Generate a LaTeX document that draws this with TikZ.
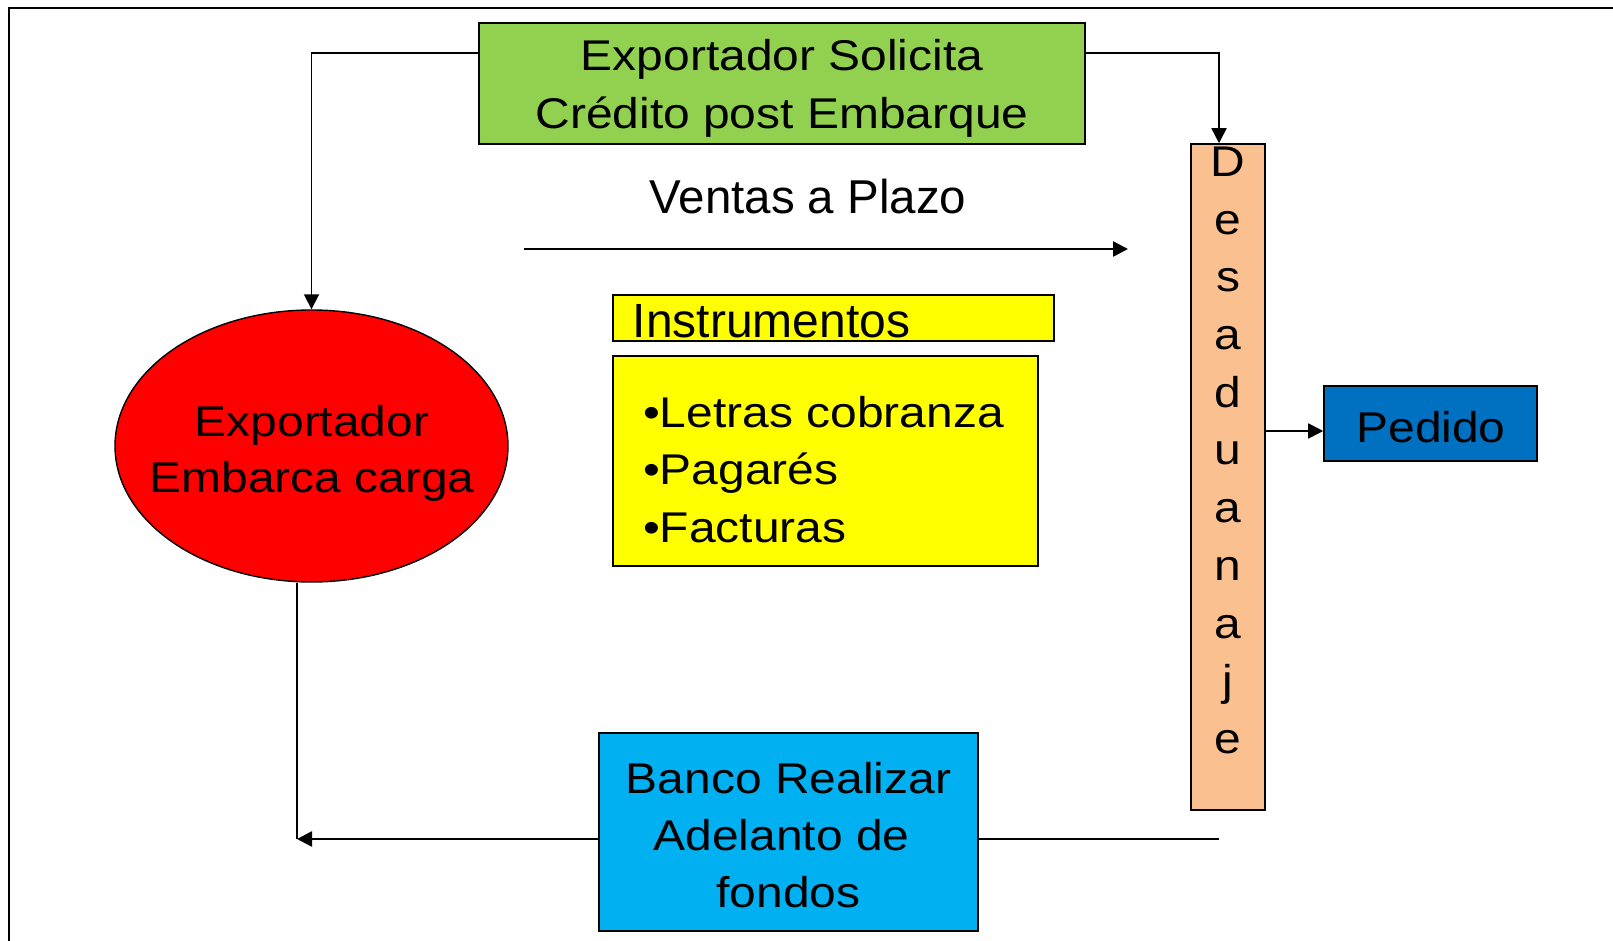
\documentclass[tikz,border=0pt]{standalone}
\usepackage{fontspec}
\setmainfont{Liberation Sans}
\newfontfamily\sfx{Liberation Sans}[FakeStretch=1.115]
\usetikzlibrary{arrows.meta,shapes.geometric}
\definecolor{cgreen}{HTML}{92D050}
\definecolor{cred}{HTML}{FF0000}
\definecolor{cyellow}{HTML}{FFFF00}
\definecolor{corange}{HTML}{FAC090}
\definecolor{cped}{HTML}{0070C0}
\definecolor{cblue}{HTML}{00B0F0}
\begin{document}
\begin{tikzpicture}[x=1pt,y=-1pt,
  rbox/.style={draw=black, line width=1.6pt, rectangle, inner sep=0pt},
  lbl/.style={inner sep=0pt, align=center},
  conn/.style={line width=1.8pt, draw=black},
  tip/.style={-{Triangle[length=15pt,width=15pt]}}]
\useasboundingbox (0,0) rectangle (1613,941);
\fill[white] (0,0) rectangle (1613,941);
\draw[line width=1.8pt] (9,941) -- (9,8) -- (1613,8);

% boxes
\node[rbox, fill=cgreen, minimum width=606pt, minimum height=121pt] (sol) at (782,83.5) {};
\node[lbl, font=\sfx\fontsize{43}{58}\selectfont] (solt) at (782,88.8) {Exportador Solicita\\Crédito post Embarque};

\node[ellipse, draw=black, line width=1.4pt, fill=cred, minimum width=393pt, minimum height=272pt, inner sep=0pt] (exp) at (311.5,446) {};
\node[lbl, font=\sfx\fontsize{43}{56}\selectfont] (expt) at (312,453.1) {Exportador\\Embarca carga};

\node[rbox, fill=corange, minimum width=74pt, minimum height=666pt] (des) at (1228,477) {};
\node[lbl, font=\sfx\fontsize{43}{57.7}\selectfont] (dest) at (1228,450.4) {D\\e\\s\\a\\d\\u\\a\\n\\a\\j\\e};

\node[rbox, fill=cped, minimum width=213pt, minimum height=75pt] (ped) at (1430.5,423.5) {};
\node[lbl, anchor=base, font=\sfx\fontsize{43}{57}\selectfont] (pedt) at (1431,442) {Pedido};

\node[rbox, fill=cblue, minimum width=379pt, minimum height=198pt] (banco) at (788.5,832) {};
\node[lbl, font=\sfx\fontsize{43}{57}\selectfont] (bancot) at (788.5,834.9) {Banco Realizar\\Adelanto de\kern14pt\\fondos};

\node[rbox, fill=cyellow, minimum width=441pt, minimum height=46pt] (ins) at (833.5,318) {};
\node[lbl, anchor=base west, font=\fontsize{48}{57}\selectfont] (inst) at (632.5,337) {Instrumentos};

\node[rbox, fill=cyellow, minimum width=425pt, minimum height=210pt] (lst) at (825.5,461) {};
\node[lbl, align=left, anchor=west, font=\sfx\fontsize{43}{57.5}\selectfont] (lstt) at (643,469.4) {•Letras cobranza\\•Pagarés\\•Facturas};

\node[lbl, anchor=base, font=\fontsize{47.5}{57}\selectfont] (vent) at (808,214) {Ventas a Plazo};

% connectors
\coordinate (ty) at (0,53);
\coordinate (rx) at (1219,0);
\draw[conn,tip] (sol.west |- ty) -| (exp.north);
\draw[conn,tip] (sol.east |- ty) -| (des.north -| rx);

\coordinate (va) at (524,249);
\coordinate (vb) at (1128,249);
\draw[line width=2.5pt, tip] (va) -- (vb);

\coordinate (py) at (0,431);
\draw[conn,tip] (des.east |- py) -- (ped.west |- py);

\coordinate (by) at (0,839);
\coordinate (lx) at (297,0);
\draw[line width=1.4pt] (rx |- by) -- (banco.east |- by);
\draw[line width=2.6pt, tip] (banco.west |- by) -- (lx |- by);
\draw[line width=1.4pt] (exp.south -| lx) -- (lx |- by);
\end{tikzpicture}
\end{document}
